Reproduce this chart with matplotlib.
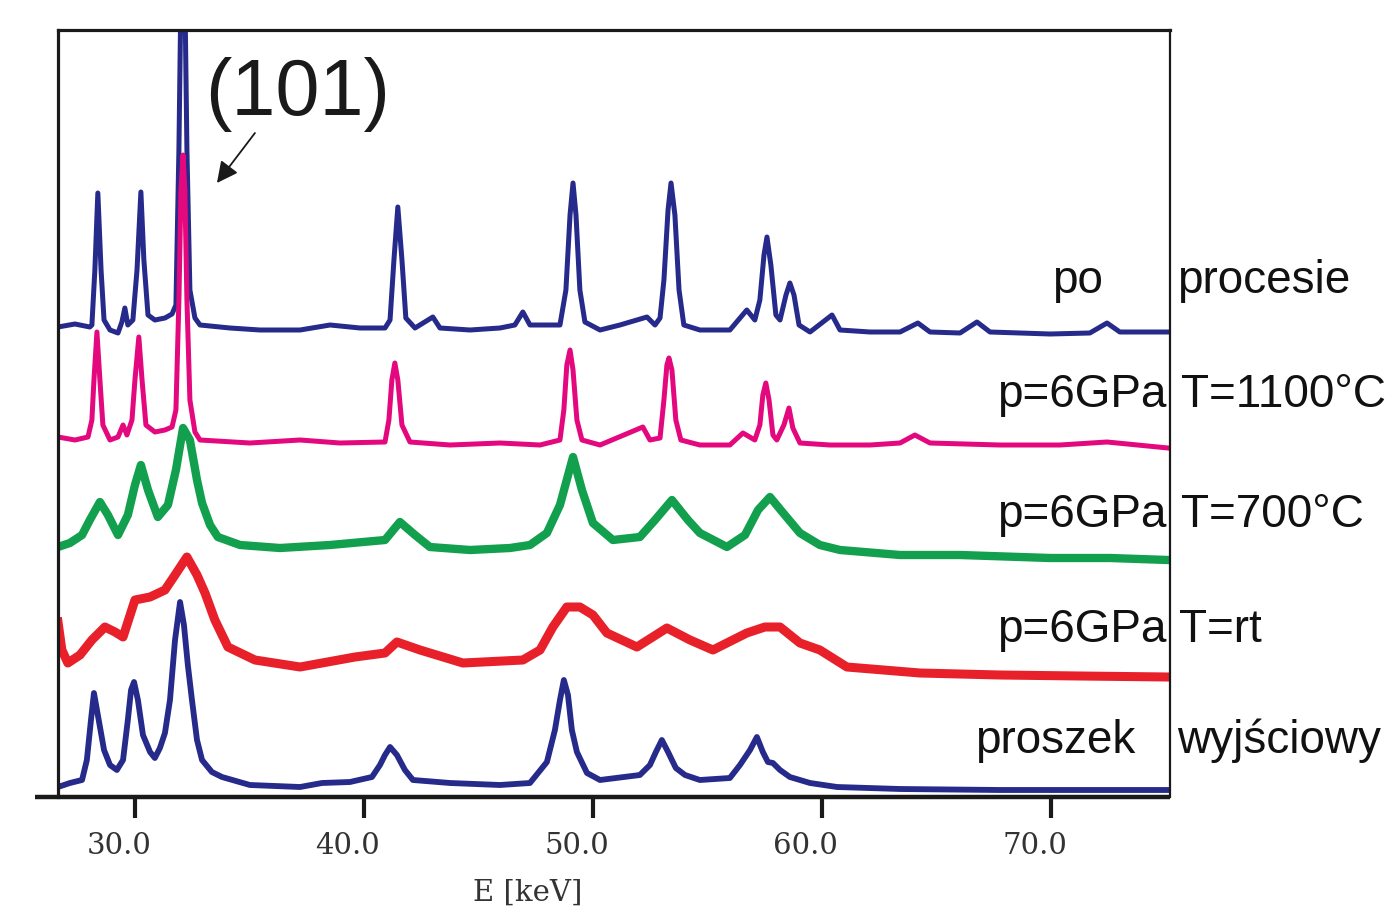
import matplotlib.pyplot as plt
from matplotlib.transforms import ScaledTranslation

# Widma EDXRD, energia [keV] i intensywnosc [j.u.]
e_po = [26.64, 27.38, 28.03, 28.12, 28.25, 28.38, 28.52, 28.65, 28.91, 29.26,
        29.43, 29.56, 29.69, 29.91, 30.09, 30.26, 30.39, 30.57, 30.87, 31.31,
        31.62, 31.79, 31.92, 32.01, 32.18, 32.27, 32.40, 32.62, 32.84, 34.15,
        35.46, 37.21, 38.52, 39.83, 40.92, 41.14, 41.31, 41.48, 41.66, 41.83,
        42.23, 43.01, 43.32, 44.63, 45.94, 46.59, 46.94, 47.25, 48.56, 48.82,
        49.00, 49.13, 49.26, 49.43, 49.65, 50.31, 51.18, 52.36, 52.71, 52.93,
        53.10, 53.28, 53.41, 53.58, 53.76, 53.97, 54.67, 55.98, 56.72, 57.07,
        57.29, 57.47, 57.60, 57.77, 57.99, 58.17, 58.43, 58.60, 58.78, 59.00,
        59.48, 60.44, 60.79, 62.10, 63.41, 64.19, 64.72, 66.03, 66.77, 67.34,
        69.96, 71.70, 72.45, 73.01, 75.11]
i_po = [470, 473, 470, 472, 527, 604, 527, 477, 467, 464,
        475, 489, 472, 477, 527, 605, 537, 482, 477, 479,
        483, 492, 647, 807, 807, 647, 507, 479, 472, 469,
        467, 467, 472, 469, 469, 477, 537, 590, 537, 479,
        469, 480, 469, 467, 469, 472, 485, 472, 472, 507,
        582, 614, 582, 507, 475, 467, 472, 480, 472, 479,
        517, 587, 614, 582, 507, 472, 467, 467, 487, 477,
        497, 542, 560, 532, 482, 477, 502, 514, 502, 472,
        465, 482, 467, 465, 465, 474, 465, 464, 475, 465,
        463, 464, 474, 465, 465]

e_1100 = [26.64, 27.38, 27.95, 28.12, 28.21, 28.34, 28.47, 28.60, 28.91, 29.26,
          29.48, 29.65, 29.87, 30.00, 30.17, 30.31, 30.48, 30.87, 31.31, 31.62,
          31.79, 31.92, 32.01, 32.10, 32.18, 32.27, 32.40, 32.62, 32.84, 35.02,
          37.21, 38.95, 40.92, 41.09, 41.22, 41.35, 41.48, 41.66, 42.01, 43.76,
          45.94, 47.69, 48.56, 48.73, 48.86, 49.00, 49.13, 49.30, 49.52, 50.31,
          52.18, 52.49, 52.93, 53.10, 53.23, 53.32, 53.45, 53.62, 53.84, 54.67,
          55.98, 56.55, 57.07, 57.29, 57.42, 57.55, 57.69, 57.86, 58.03, 58.34,
          58.56, 58.73, 59.04, 60.35, 62.10, 63.41, 64.06, 64.72, 67.77, 70.39,
          72.45, 75.11]
i_1100 = [360, 357, 360, 377, 417, 465, 417, 372, 357, 360,
          372, 362, 377, 417, 460, 417, 372, 365, 367, 370,
          387, 497, 607, 642, 607, 497, 397, 365, 357, 354,
          357, 354, 355, 377, 417, 434, 417, 372, 355, 352,
          354, 352, 357, 387, 432, 447, 427, 377, 357, 352,
          370, 357, 359, 397, 432, 439, 427, 377, 357, 352,
          352, 364, 357, 372, 402, 414, 397, 362, 357, 372,
          389, 369, 354, 352, 352, 354, 362, 354, 352, 352,
          355, 349]

e_700 = [26.64, 27.16, 27.69, 28.03, 28.47, 28.82, 29.26, 29.69, 30.00, 30.26,
         30.57, 31.00, 31.44, 31.79, 32.10, 32.40, 32.71, 32.93, 33.28, 33.62,
         34.59, 36.33, 38.52, 40.92, 41.57, 42.23, 42.88, 44.63, 46.38, 47.25,
         47.99, 48.56, 49.13, 49.52, 50.00, 50.87, 52.05, 52.71, 53.45, 54.15,
         54.67, 55.85, 56.64, 57.21, 57.73, 58.38, 59.04, 59.91, 60.79, 63.41,
         66.03, 69.96, 72.58, 75.11]
i_700 = [250, 254, 262, 277, 295, 282, 262, 282, 312, 332,
         307, 280, 292, 327, 369, 357, 317, 294, 272, 260,
         252, 249, 252, 257, 275, 262, 250, 247, 249, 252,
         264, 292, 340, 307, 274, 257, 260, 277, 297, 277,
         264, 250, 262, 287, 300, 282, 264, 252, 247, 242,
         242, 239, 239, 237]

e_rt = [26.64, 26.81, 27.07, 27.60, 28.12, 28.69, 29.13, 29.48, 30.00, 30.66,
        31.31, 31.75, 32.27, 32.71, 33.06, 33.49, 34.06, 35.24, 37.21, 39.61,
        40.92, 41.44, 42.45, 44.32, 46.94, 47.69, 48.25, 48.86, 49.43, 50.00,
        50.61, 51.92, 53.23, 54.24, 55.24, 56.72, 57.51, 58.17, 59.04, 59.91,
        61.09, 64.28, 67.77, 71.27, 75.11]
i_rt = [175, 147, 134, 142, 157, 170, 165, 160, 197, 200,
        207, 222, 240, 222, 204, 177, 150, 137, 130, 140,
        144, 155, 147, 134, 137, 147, 170, 190, 190, 182,
        164, 150, 169, 157, 147, 164, 170, 170, 154, 147,
        130, 124, 122, 121, 120]

e_proszek = [26.64, 27.16, 27.69, 27.90, 28.08, 28.21, 28.38, 28.65, 28.91, 29.21,
             29.48, 29.69, 29.83, 29.96, 30.13, 30.35, 30.66, 30.87, 31.09, 31.31,
             31.53, 31.75, 31.97, 32.14, 32.31, 32.49, 32.71, 32.93, 33.36, 33.80,
             35.02, 37.21, 38.17, 39.39, 40.35, 40.70, 40.92, 41.14, 41.44, 41.79,
             42.14, 43.76, 45.94, 47.25, 47.99, 48.34, 48.56, 48.73, 48.91, 49.08,
             49.30, 49.74, 50.31, 52.05, 52.49, 52.75, 53.01, 53.28, 53.62, 54.02,
             54.67, 55.98, 56.42, 56.86, 57.16, 57.42, 57.64, 57.86, 58.17, 58.60,
             59.48, 60.66, 63.41, 67.77, 72.14, 75.11]
i_proszek = [10, 14, 17, 37, 77, 104, 82, 47, 32, 27,
             37, 77, 107, 115, 97, 62, 45, 39, 49, 64,
             97, 157, 195, 172, 132, 97, 57, 37, 25, 20,
             12, 10, 14, 15, 20, 32, 42, 50, 42, 27,
             17, 14, 12, 14, 35, 67, 97, 117, 102, 67,
             45, 24, 17, 22, 32, 45, 57, 45, 29, 22,
             17, 19, 32, 47, 60, 45, 35, 34, 27, 20,
             14, 10, 8, 7, 7, 7]

x_ticks = [30, 40, 50, 60, 70]
x_tick_labels = ["30.0", "40.0", "50.0", "60.0", "70.0"]

W, H = 1385, 909


def fx(px):
    return px / W


def fy(py):
    return 1 - py / H


fig = plt.figure(figsize=(W / 100, H / 100), dpi=100)
ax = fig.add_axes([fx(58), fy(797), fx(1170) - fx(58), fy(30) - fy(797)])

# widma, od gornego do dolnego
ax.plot(e_po, i_po, color="#262a8a", lw=3.6, solid_joinstyle="round")
ax.plot(e_1100, i_1100, color="#e4087f", lw=3.6, solid_joinstyle="round")
ax.plot(e_700, i_700, color="#12a04e", lw=6.0, solid_joinstyle="round")
ax.plot(e_rt, i_rt, color="#e8202a", lw=6.5, solid_joinstyle="round")
ax.plot(e_proszek, i_proszek, color="#262a8a", lw=4.2, solid_joinstyle="round")

ax.set_xlim(26.64, 75.20)
ax.set_ylim(0, 767)
ax.set_yticks([])

for s in ["top", "left"]:
    ax.spines[s].set_linewidth(2.3)
    ax.spines[s].set_color("#1a1a1a")
ax.spines["right"].set_linewidth(1.6)
ax.spines["right"].set_color("#1a1a1a")
ax.spines["bottom"].set_visible(False)
# dolna os wychodzi poza lewa krawedz ramki
ax.plot([-0.021, 1.0], [0, 0], transform=ax.transAxes, color="#1a1a1a",
        lw=3.2, clip_on=False, solid_capstyle="butt", zorder=6)

ax.set_xticks(x_ticks)
ax.set_xticklabels(x_tick_labels, fontfamily="DejaVu Serif", fontsize=21,
                   color="#333333")
ax.tick_params(axis="x", direction="out", length=15, width=3,
               color="#1a1a1a", pad=10)
for lab in ax.get_xticklabels():
    lab.set_transform(lab.get_transform()
                      + ScaledTranslation(-0.16, 0, fig.dpi_scale_trans))

fig.text(fx(528), fy(879), "E [keV]", fontfamily="DejaVu Serif", fontsize=21,
         color="#333333", ha="center", va="top")

# oznaczenie refleksu (101)
ax.text(33.06, 682, "(101)", fontfamily="Liberation Sans", fontsize=57,
        color="#1a1a1a", ha="left", va="baseline")
ax.annotate("", xy=(33.58, 614), xytext=(35.24, 664),
            arrowprops=dict(arrowstyle="-|>", color="#1a1a1a", lw=1.3,
                            mutation_scale=32, shrinkA=0, shrinkB=0))

# opisy widm po prawej
lab_kw = dict(fontfamily="Liberation Sans", fontsize=33, color="#111111",
              va="baseline")
fig.text(fx(1052), fy(293), "po", ha="left", **lab_kw)
fig.text(fx(1177), fy(293), "procesie", ha="left", **lab_kw)
fig.text(fx(1167), fy(407), "p=6GPa", ha="right", **lab_kw)
fig.text(fx(1181), fy(407), "T=1100°C", ha="left", **lab_kw)
fig.text(fx(1167), fy(527), "p=6GPa", ha="right", **lab_kw)
fig.text(fx(1181), fy(527), "T=700°C", ha="left", **lab_kw)
fig.text(fx(1167), fy(642), "p=6GPa", ha="right", **lab_kw)
fig.text(fx(1179), fy(642), "T=rt", ha="left", **lab_kw)
fig.text(fx(975), fy(753), "proszek", ha="left", **lab_kw)
fig.text(fx(1177), fy(753), "wyjściowy", ha="left", **lab_kw)

fig.savefig("out.png", dpi=100)
